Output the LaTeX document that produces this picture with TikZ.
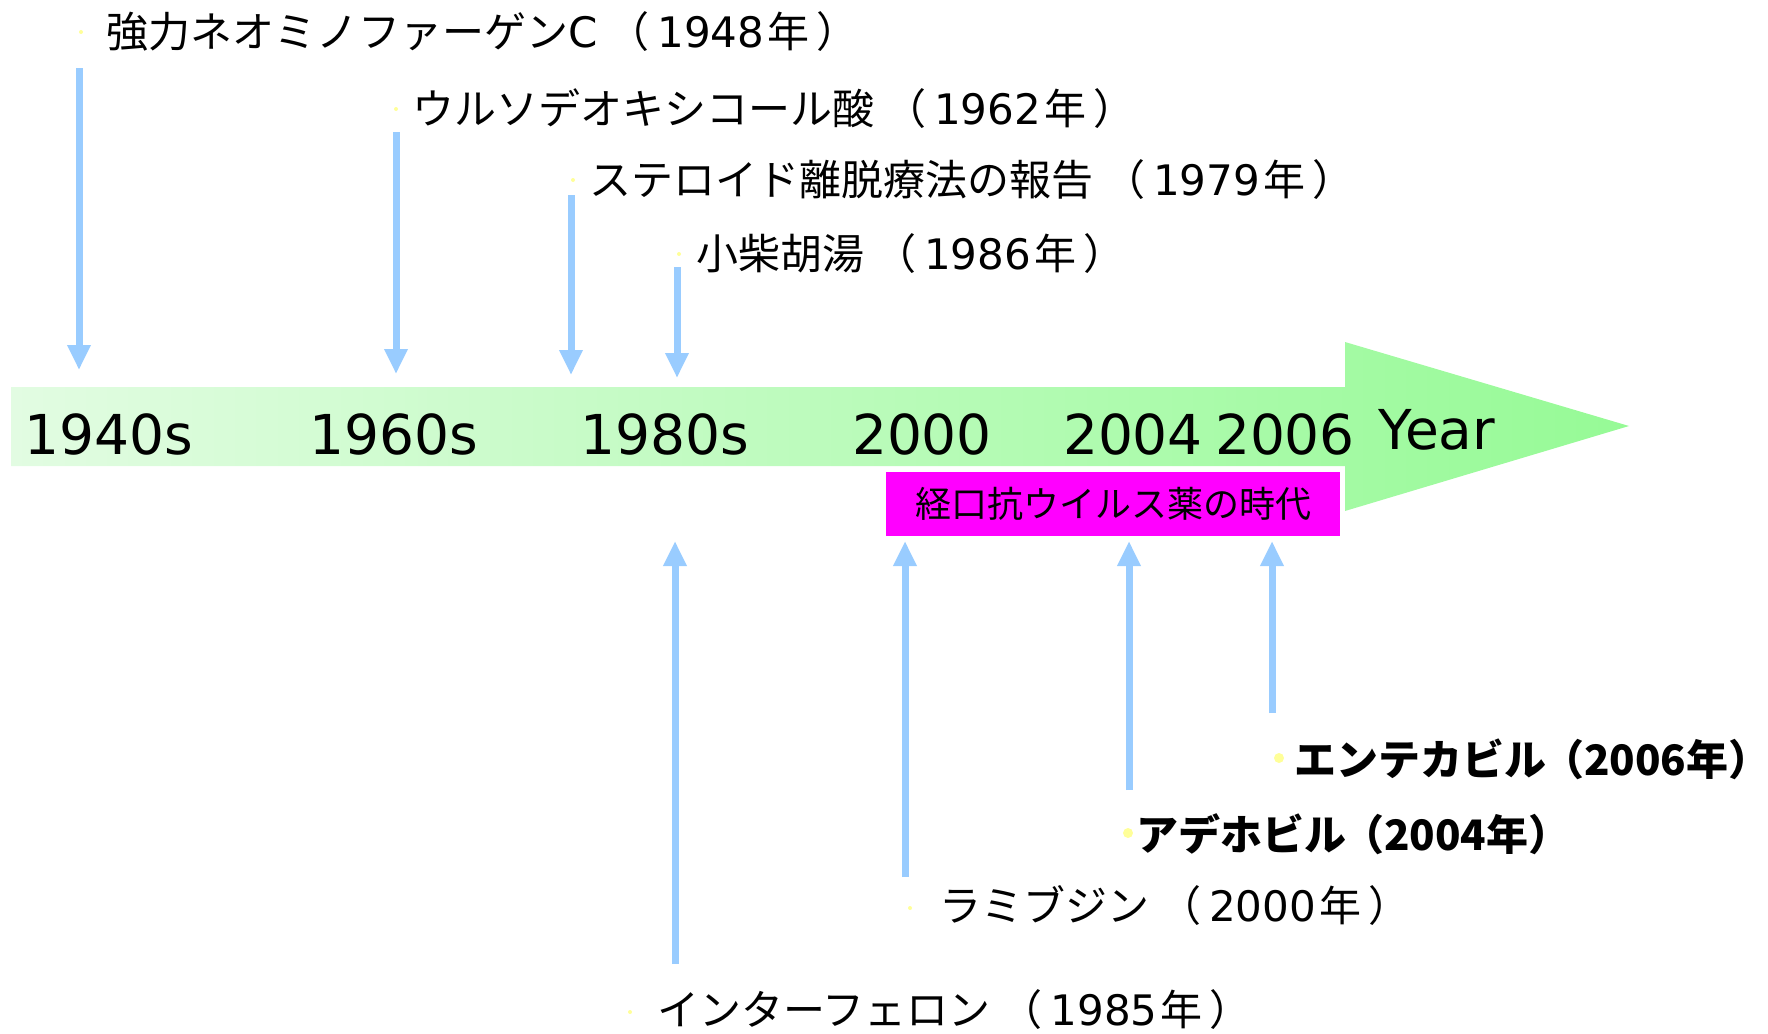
\documentclass[tikz,border=0pt]{standalone}
\usepackage{fontspec}
\setmainfont{Noto Sans CJK JP}
\newfontfamily\latinf{DejaVu Sans}
\newcommand{\yrp}[1]{\hspace{10pt}（\hspace{8pt}{\latinf #1}\hspace{3pt}年\hspace{7pt}）}
\newcommand{\byrp}[1]{\hspace{-4pt}（#1年）\hspace{-18pt}}
\usetikzlibrary{arrows.meta}
\definecolor{arrblue}{RGB}{153,204,255}
\definecolor{dotyel}{RGB}{255,255,153}
\definecolor{gleft}{RGB}{226,252,226}
\definecolor{gright}{RGB}{150,250,150}
\definecolor{mag}{RGB}{255,0,255}
\tikzset{
  bluearrow/.style={draw=arrblue, line width=7pt, -{Triangle[width=22pt,length=25pt]}},
  evlabel/.style={anchor=west, inner sep=0pt, font=\fontsize{42}{48}\selectfont},
  evbold/.style={anchor=west, inner sep=0pt, font=\fontsize{42}{48}\selectfont\bfseries},
  yearlabel/.style={inner sep=0pt, font=\latinf\fontsize{55}{60}\selectfont},
  smalldot/.style={circle, fill=dotyel, inner sep=0pt, minimum size=4pt},
  bigdot/.style={circle, fill=dotyel, inner sep=0pt, minimum size=10pt},
}
\begin{document}
\begin{tikzpicture}[x=1pt,y=-1pt]
\useasboundingbox (0,0) rectangle (1768,1033);
% timeline arrow
\shade[left color=gleft, right color=gright]
  (11,387) -- (1345,387) -- (1345,342) -- (1629,426) -- (1345,511) -- (1345,466) -- (11,466) -- cycle;
% year labels
\node[yearlabel] (y1940) at (109,434) {1940s};
\node[yearlabel] (y1960) at (394,434) {1960s};
\node[yearlabel] (y1980) at (665,434) {1980s};
\node[yearlabel] (y2000) at (922,434) {2000};
\node[yearlabel] (y2004) at (1133,434) {2004};
\node[yearlabel] (y2006) at (1285,434) {2006};
\node[yearlabel] (yyear) at (1437,430) {Year};
% magenta box
\node[fill=mag, minimum width=454pt, minimum height=64pt, inner sep=0pt,
      font=\fontsize{36}{40}\selectfont] (era) at (1113,504) {経口抗ウイルス薬の時代};
% upper events
\node[smalldot] (d1) at (81,32) {};
\node[evlabel] (t1) at (106,32) {強力ネオミノファーゲン{\latinf C}\yrp{1948}};
\coordinate (a1s) at (79,68); \coordinate (a1e) at (79,370);
\draw[bluearrow] (a1s) -- (a1e);

\node[smalldot] (d2) at (396,109) {};
\node[evlabel] (t2) at (412,109) {ウルソデオキシコール酸\yrp{1962}};
\coordinate (a2s) at (396,132); \coordinate (a2e) at (396,374);
\draw[bluearrow] (a2s) -- (a2e);

\node[smalldot] (d3) at (573,180) {};
\node[evlabel] (t3) at (589,180) {ステロイド離脱療法の報告\yrp{1979}};
\coordinate (a3s) at (571,195); \coordinate (a3e) at (571,375);
\draw[bluearrow] (a3s) -- (a3e);

\node[smalldot] (d4) at (679,254) {};
\node[evlabel] (t4) at (696,254) {小柴胡湯\yrp{1986}};
\coordinate (a4s) at (677,267); \coordinate (a4e) at (677,378);
\draw[bluearrow] (a4s) -- (a4e);

% lower events
\node[smalldot] (d5) at (630,1012) {};
\node[evlabel] (t5) at (657,1010) {インターフェロン\yrp{1985}};
\coordinate (a5s) at (675,964); \coordinate (a5e) at (675,541);
\draw[bluearrow] (a5s) -- (a5e);

\node[smalldot] (d6) at (910,908) {};
\node[evlabel] (t6) at (939,906) {ラミブジン\yrp{2000}};
\coordinate (a6s) at (905,877); \coordinate (a6e) at (905,541);
\draw[bluearrow] (a6s) -- (a6e);

\node[bigdot] (d7) at (1128,833) {};
\node[evbold] (t7) at (1136,834) {アデホビル\byrp{2004}};
\coordinate (a7s) at (1129,790); \coordinate (a7e) at (1129,541);
\draw[bluearrow] (a7s) -- (a7e);

\node[bigdot] (d8) at (1279,758) {};
\node[evbold] (t8) at (1294,759) {エンテカビル\byrp{2006}};
\coordinate (a8s) at (1272,713); \coordinate (a8e) at (1272,541);
\draw[bluearrow] (a8s) -- (a8e);
\end{tikzpicture}
\end{document}
